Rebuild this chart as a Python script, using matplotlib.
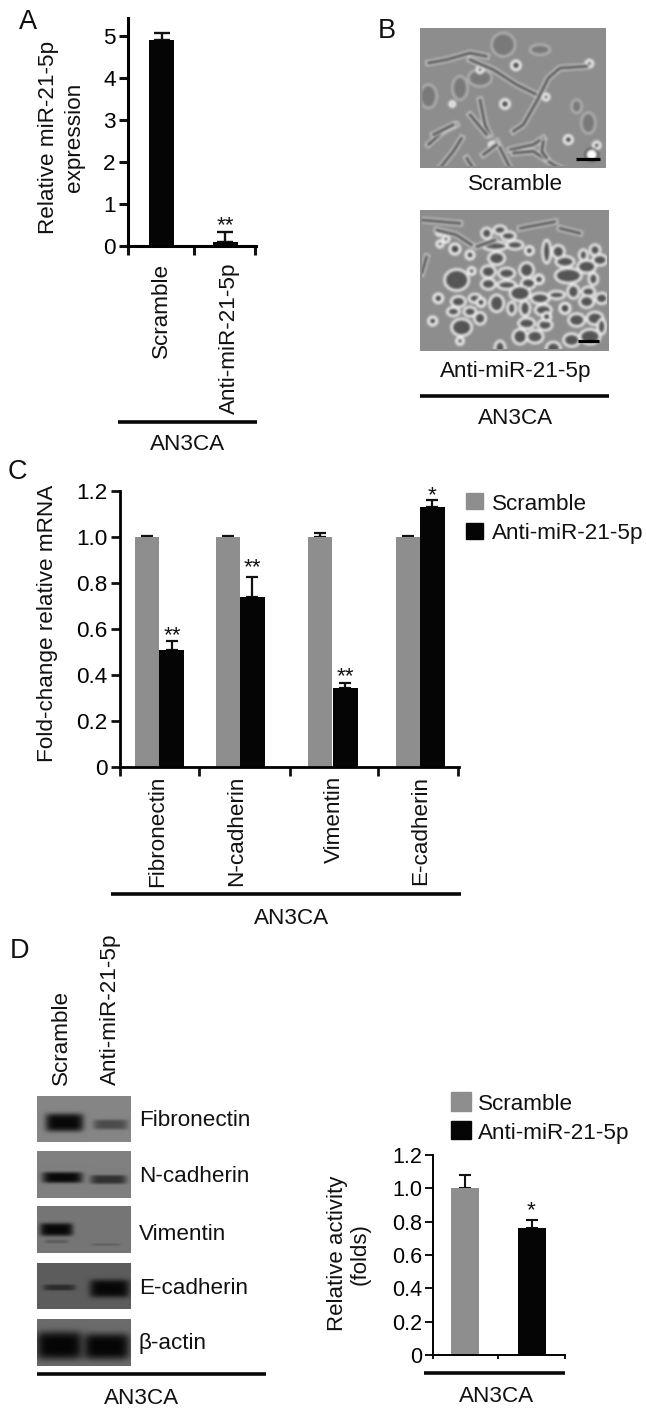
import numpy as np
import matplotlib
matplotlib.use('Agg')
import matplotlib.pyplot as plt
from matplotlib.patches import Ellipse, Rectangle

plt.rcParams['font.family'] = ['Liberation Sans', 'DejaVu Sans']

# panel A
a_labels = ['Scramble', 'Anti-miR-21-5p']
a_values = [4.9, 0.1]
a_errors = [0.17, 0.23]

# panel C
c_labels = ['Fibronectin', 'N-cadherin', 'Vimentin', 'E-cadherin']
c_scramble = [1.0, 1.0, 1.0, 1.0]
c_scramble_err = [0.006, 0.006, 0.017, 0.006]
c_anti = [0.51, 0.74, 0.345, 1.13]
c_anti_err = [0.04, 0.085, 0.02, 0.03]

# panel D bars
d_values = [1.0, 0.765]
d_errors = [0.08, 0.045]
d_ticks = [0, 0.2, 0.4, 0.6, 0.8, 1.0, 1.2]
d_ticklabels = ['0', '0.2', '0.4', '0.6', '0.8', '1.0', '1.2']

# blots: name, top, bottom, background, bands (cx, cy, half w, half h, strength)
blots = [
    ('Fibronectin', 1096, 1142, 0.50, [(64, 1122, 19, 9, 0.98), (110, 1124, 17, 5, 0.45)], 1119),
    ('N-cadherin', 1151, 1198, 0.48, [(62, 1177, 20, 5.5, 0.97), (108, 1179, 18, 4.5, 0.65)], 1174),
    ('Vimentin', 1206, 1253, 0.44, [(56, 1229, 16.5, 6.5, 0.98), (56, 1241, 12, 2, 0.2), (105, 1244, 15, 1.5, 0.15)], 1232),
    ('E-cadherin', 1263, 1309, 0.34, [(59, 1287, 16, 3, 0.55), (109, 1288, 20, 9, 0.98)], 1286),
    ('β-actin', 1319, 1366, 0.40, [(59, 1345, 23, 14, 1.0), (106, 1346, 23, 13, 1.0)], 1342),
]

# micrograph sketches, traced on a 3x crop
m1_lines = [
    [(25, 105), (80, 95), (150, 75), (200, 85)],
    [(150, 95), (220, 125), (290, 170), (350, 200)],
    [(500, 115), (420, 120), (385, 150), (350, 220), (310, 290), (280, 310)],
    [(180, 215), (195, 290), (210, 320)],
    [(150, 260), (200, 320)],
    [(25, 350), (70, 310), (110, 290)],
    [(40, 320), (100, 290)],
    [(60, 420), (100, 370), (125, 330)],
    [(230, 340), (260, 400), (275, 430)],
    [(190, 380), (230, 350)],
    [(140, 390), (165, 430)],
    [(270, 365), (340, 350), (370, 330)],
    [(280, 375), (340, 370), (400, 410), (440, 430)],
    [(370, 340), (365, 370), (380, 390)],
]
m1_rings = [(288, 112, 13), (255, 228, 13), (508, 107, 10), (378, 207, 9), (97, 228, 7),
            (215, 350, 7), (530, 352, 10), (180, 125, 9), (445, 335, 12)]
m1_cells = [(180, 150, 70, 50), (505, 285, 42, 62), (250, 50, 70, 70), (120, 180, 45, 70),
            (25, 205, 50, 70), (360, 65, 60, 30), (470, 235, 30, 40)]
m1_blobs = [(515, 380, 18)]

m2_lines = [
    [(300, 55), (405, 35)], [(420, 55), (480, 70)], [(5, 190), (20, 140)],
    [(50, 60), (110, 75), (155, 105)], [(170, 110), (225, 90)], [(5, 30), (120, 40)],
]
m2_rings = [(58, 67, 9), (78, 87, 9), (60, 102, 9), (105, 117, 15), (328, 122, 12), (155, 183, 10),
            (357, 208, 13), (55, 265, 13), (183, 277, 12), (38, 333, 12), (120, 393, 10), (380, 320, 12),
            (435, 295, 15), (150, 135, 12)]
m2_cells = [
    (230, 145, 40, 30), (205, 185, 35, 28), (260, 190, 40, 25), (205, 222, 35, 25), (260, 225, 45, 20),
    (320, 180, 35, 35), (325, 220, 35, 25), (300, 250, 50, 35), (360, 265, 45, 25), (410, 255, 40, 18),
    (460, 245, 28, 32), (505, 245, 32, 22), (545, 265, 30, 25), (500, 275, 35, 28), (540, 150, 35, 25),
    (500, 170, 45, 30), (525, 120, 25, 25), (490, 135, 20, 25), (520, 207, 22, 28), (445, 197, 65, 35),
    (435, 155, 45, 25), (380, 125, 20, 55), (415, 125, 30, 30), (115, 275, 35, 25), (100, 305, 30, 20),
    (150, 305, 30, 22), (180, 325, 28, 28), (125, 352, 50, 40), (230, 280, 35, 40), (275, 295, 20, 30),
    (315, 295, 25, 35), (370, 300, 40, 25), (470, 330, 40, 30), (525, 325, 40, 30), (320, 340, 40, 25),
    (375, 345, 35, 25), (300, 380, 35, 35), (345, 380, 40, 30), (400, 415, 35, 30), (455, 390, 40, 30),
    (510, 380, 50, 35), (545, 350, 20, 35), (240, 415, 25, 35), (285, 105, 40, 20), (240, 60, 30, 20),
    (265, 78, 35, 20), (200, 70, 25, 25), (225, 108, 60, 20), (110, 210, 60, 50), (165, 265, 30, 20),
]

W, H = 646, 1412
GREY = '#8e8e8e'
BLACK = '#050505'
FS = 16.2

fig = plt.figure(figsize=(W / 100, H / 100), dpi=100)
bg = fig.add_axes([0, 0, 1, 1])
bg.set_xlim(0, W)
bg.set_ylim(H, 0)
bg.axis('off')


def px_axes(x0, x1, ytop, ybot):
    ax = fig.add_axes([x0 / W, 1 - ybot / H, (x1 - x0) / W, (ybot - ytop) / H])
    ax.patch.set_alpha(0)
    ax.set_xlim(x0, x1)
    for s in ['top', 'right']:
        ax.spines[s].set_visible(False)
    return ax


def style(ax, lw, ticklen, size):
    ax.spines['left'].set_linewidth(lw)
    ax.spines['bottom'].set_linewidth(lw)
    ax.tick_params(width=lw, length=ticklen, labelsize=size, color='#111111', pad=2.5)
    ax.set_xticklabels([])


def label(x, y, s, size=FS, **kw):
    kw.setdefault('ha', 'center')
    kw.setdefault('va', 'center')
    # the box includes descenders, so nudge to centre on the letters
    if kw.get('rotation'):
        x += 2
    elif kw['va'] == 'center':
        y += 2
    bg.text(x, y, s, fontsize=size, color='#111111', **kw)


def rule(x0, x1, y, lw=2.6):
    bg.plot([x0, x1], [y, y], color='#080808', lw=lw, solid_capstyle='butt')


def err(ax, x, v, e, lw, cap):
    ax.errorbar(x, v, yerr=[[0], [e]], color='#111111', elinewidth=lw, capsize=cap, capthick=lw, zorder=1)


def micrograph(x0, x1, y0, y1, lines, rings, cells, blobs, soft):
    # draw the sketch off screen, blur it a little, paste it in as an image
    w, h = x1 - x0, y1 - y0
    f = plt.figure(figsize=(w / 100, h / 100), dpi=100)
    a = f.add_axes([0, 0, 1, 1])
    a.set_xlim(0, w * 3)
    a.set_ylim(h * 3, 0)
    a.axis('off')
    a.add_patch(Rectangle((0, 0), w * 3, h * 3, color='#8d8d8d'))
    for cx, cy, cw, ch in cells:
        if soft:
            a.add_patch(Ellipse((cx, cy), cw * 1.2, ch * 1.25, fc='#555555', ec='#e8e8e8', lw=2.0))
        else:
            a.add_patch(Ellipse((cx, cy), cw, ch, fc='#7a7a7a', ec='#b5b5b5', lw=1.6))
    for pts in lines:
        xs, ys = zip(*pts)
        a.plot(xs, ys, color='#cfcfcf', lw=4.2)
        a.plot(xs, ys, color='#454545', lw=1.8)
    for cx, cy, r in rings:
        a.add_patch(Ellipse((cx, cy), 2 * r, 2 * r, fc='#4a4a4a', ec='#ececec', lw=2.2))
    for cx, cy, r in blobs:
        a.add_patch(Ellipse((cx, cy), 2 * r, 2 * r, fc='#fbfbfb', ec='#2c2c2c', lw=1))
    f.canvas.draw()
    img = np.asarray(f.canvas.buffer_rgba())[:, :, 0].astype(float)
    plt.close(f)
    kernel = np.array([1, 2, 3, 2, 1]) / 9
    img = np.apply_along_axis(lambda r: np.convolve(r, kernel, mode='same'), 0, img)
    img = np.apply_along_axis(lambda r: np.convolve(r, kernel, mode='same'), 1, img)
    img[:2, :] = img[-2:, :] = 141
    img[:, :2] = img[:, -2:] = 141
    bg.imshow(img, cmap='gray', vmin=0, vmax=255, extent=[x0, x1, y1, y0], aspect='auto', zorder=1)


# A
axa = px_axes(128, 256, 18, 246)
axa.set_ylim(0, 228 / 42)
axa.bar([161.5, 225], a_values, width=25, color=BLACK, zorder=2)
err(axa, 161.5, a_values[0], a_errors[0], 1.7, 6)
err(axa, 225, a_values[1], a_errors[1], 1.7, 6)
axa.set_yticks(range(6))
axa.set_xticks([128, 194, 255])
style(axa, 2.2, 6.5, FS)
label(159, 263, a_labels[0], rotation=90, va='top')
label(227, 263, a_labels[1], rotation=90, va='top')
label(47, 137, 'Relative miR-21-5p', rotation=90)
label(72, 137, 'expression', rotation=90)
rule(118, 257, 422)
label(188, 442, 'AN3CA')
label(225, 231, '**', va='baseline')
label(28, 20, 'A', size=19.5)

# B
micrograph(420, 606, 28, 168, m1_lines, m1_rings, m1_cells, m1_blobs, False)
micrograph(420, 609, 210, 351, m2_lines, m2_rings, m2_cells, [], True)
bg.plot([576, 600], [159, 159], color='black', lw=2.3, solid_capstyle='butt', zorder=3)
bg.plot([578, 599], [341, 341], color='black', lw=2.3, solid_capstyle='butt', zorder=3)
bg.set_xlim(0, W)
bg.set_ylim(H, 0)
label(516, 183, 'Scramble')
label(516, 369, 'Anti-miR-21-5p')
rule(420, 609, 396)
label(516, 417, 'AN3CA')
label(387, 29, 'B', size=19.5)

# C
axc = px_axes(120, 459, 491, 767)
axc.set_ylim(0, 1.2)
grey_x = [147, 227.5, 320, 408]
black_x = [171.5, 252, 345, 432]
axc.bar(grey_x, c_scramble, width=24, color=GREY, zorder=2)
axc.bar(black_x, c_anti, width=25, color=BLACK, zorder=2)
for i in range(4):
    err(axc, grey_x[i], c_scramble[i], c_scramble_err[i], 1.6, 4.3)
    err(axc, black_x[i], c_anti[i], c_anti_err[i], 1.6, 4.3)
axc.set_yticks(d_ticks)
axc.set_xticks([120, 199, 290, 378, 458])
style(axc, 2.0, 6.5, FS)
axc.set_yticklabels(d_ticklabels)
for x, name in zip([156, 235, 332, 419], c_labels):
    label(x, 776, name, rotation=90, va='top')
label(46, 623, 'Fold-change relative mRNA', rotation=90)
rule(111, 461, 894)
label(292, 917, 'AN3CA')
for x, y, s in [(172, 641, '**'), (252, 573, '**'), (345, 682, '**'), (432, 501, '*')]:
    label(x, y, s, va='baseline')
bg.add_patch(Rectangle((466, 493), 16.5, 16, color=GREY))
bg.add_patch(Rectangle((466, 523), 16.5, 16, color=BLACK))
label(492, 502, 'Scramble', ha='left')
label(492, 532, 'Anti-miR-21-5p', ha='left')
label(17, 470, 'C', size=19.5)

# D blots
for name, top, bot, base, bands, label_y in blots:
    ys, xs = np.mgrid[top:bot, 37:131]
    shade = np.ones(xs.shape)
    for cx, cy, hw, hh, s in bands:
        shade *= 1 - s * np.exp(-np.abs((xs - cx) / hw) ** 6 - np.abs((ys - cy) / hh) ** 4)
    bg.imshow(base * shade + 0.02, cmap='gray', vmin=0, vmax=1, extent=[37, 131, bot, top], aspect='auto', zorder=1)
    label(139, label_y, name, ha='left')
bg.set_xlim(0, W)
bg.set_ylim(H, 0)
label(59, 1085, a_labels[0], rotation=90, va='bottom')
label(108, 1085, a_labels[1], rotation=90, va='bottom')
rule(37, 266, 1374)
label(142, 1396, 'AN3CA')
label(20, 949, 'D', size=19.5)

# D bars
axd = px_axes(433, 565, 1155, 1355)
axd.set_ylim(0, 1.2)
axd.bar([465, 532], d_values, width=[28, 28.5], color=[GREY, BLACK], zorder=2)
err(axd, 465, d_values[0], d_errors[0], 1.5, 4.3)
err(axd, 532, d_values[1], d_errors[1], 1.5, 4.3)
axd.set_yticks(d_ticks)
axd.set_xticks([433, 498, 564.5])
style(axd, 1.4, 5.5, 15.5)
axd.set_yticklabels(d_ticklabels)
axd.tick_params(axis='x', length=3)
label(335, 1253, 'Relative activity', size=16, rotation=90)
label(358, 1254, '(folds)', size=16, rotation=90)
rule(424, 565, 1373)
label(497, 1395, 'AN3CA')
label(531, 1216, '*', va='baseline')
bg.add_patch(Rectangle((451, 1092), 20, 19, color=GREY))
bg.add_patch(Rectangle((451, 1121), 20, 18, color=BLACK))
label(478, 1103, 'Scramble', ha='left')
label(478, 1132, 'Anti-miR-21-5p', ha='left')

fig.savefig('out.png', dpi=100)
